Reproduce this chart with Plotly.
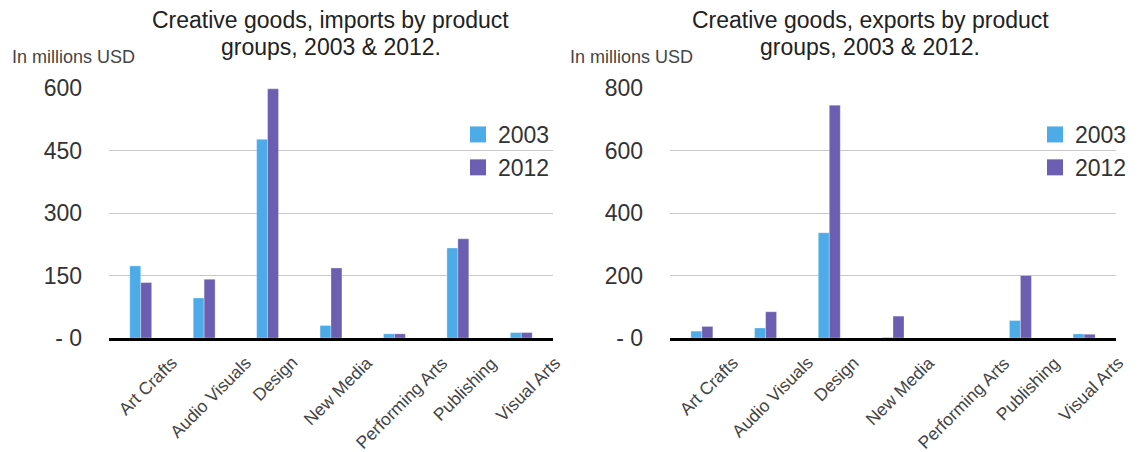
import plotly.graph_objects as go

categories = ["Art Crafts", "Audio Visuals", "Design", "New Media",
              "Performing Arts", "Publishing", "Visual Arts"]
imports_2003 = [173, 96, 477, 30, 10, 216, 13]
imports_2012 = [133, 141, 598, 168, 10, 238, 13]
exports_2003 = [22, 32, 337, 2, 0, 56, 13]
exports_2012 = [37, 84, 745, 70, 0, 200, 12]

imp_ticks = [0, 150, 300, 450, 600]
imp_ticktext = ["- 0", "150", "300", "450", "600"]
exp_ticks = [0, 200, 400, 600, 800]
exp_ticktext = ["- 0", "200", "400", "600", "800"]

C2003 = "#4DABE8"
C2012 = "#6C5EB0"
FONT = "Liberation Sans"
W, H = 1146, 452
OFF = 8  # page body margin


def px(x):
    return (x - OFF) / W


def py(y):
    return 1 - (y - OFF) / H


fig = go.Figure()
panels = [("x", "y", "legend", imports_2003, imports_2012),
          ("x2", "y2", "legend2", exports_2003, exports_2012)]
for xa, ya, leg, v03, v12 in panels:
    for name, vals, col in (("2003", v03, C2003), ("2012", v12, C2012)):
        fig.add_trace(go.Bar(x=categories, y=vals, name=name, marker_color=col,
                             marker_line=dict(width=0.6, color="rgba(255,255,255,0.5)"),
                             xaxis=xa, yaxis=ya, showlegend=False, legendgroup=leg + name))
    # legend entries with larger square swatches
    for name, col in (("2003", C2003), ("2012", C2012)):
        fig.add_trace(go.Scatter(x=[None], y=[None], mode="markers", name=name,
                                 marker=dict(symbol="square", size=16, color=col),
                                 xaxis=xa, yaxis=ya, legend=leg, legendgroup=leg + name))
    # rotated category labels, centred under each category
    for cat in categories:
        fig.add_annotation(text=cat, x=cat, xref=xa, y=py(350), yref="paper",
                           xanchor="center", yanchor="top", xshift=7, textangle=-45,
                           showarrow=False, font=dict(family=FONT, size=17.5, color="#444"))

ydom = [py(338), py(88)]
xrange = [-0.5, len(categories) - 0.5]
xcommon = dict(showline=True, linecolor="black", linewidth=3, showgrid=False,
               showticklabels=False, ticks="", automargin=False, zeroline=False,
               range=xrange, autorange=False)
ycommon = dict(showgrid=True, gridcolor="#c8c8c8", gridwidth=1.2, zeroline=False,
               tickfont=dict(family=FONT, size=23, color="#333"), ticks="",
               ticklabelstandoff=26, automargin=False, showline=False)

legfont = dict(family=FONT, size=23, color="#333")
fig.update_layout(
    width=W, height=H,
    margin=dict(l=0, r=0, t=0, b=0),
    plot_bgcolor="white", paper_bgcolor="white",
    barmode="group", bargap=0.655, bargroupgap=0,
    font=dict(family=FONT, color="#333"),
    xaxis=dict(domain=[px(109), px(553)], anchor="y", **xcommon),
    yaxis=dict(domain=ydom, anchor="x", range=[0, 600], tickvals=imp_ticks,
               ticktext=imp_ticktext, **ycommon),
    xaxis2=dict(domain=[px(670), px(1116)], anchor="y2", **xcommon),
    yaxis2=dict(domain=ydom, anchor="x2", range=[0, 800], tickvals=exp_ticks,
                ticktext=exp_ticktext, **ycommon),
    legend=dict(x=px(458), y=py(113), xanchor="left", yanchor="top",
                font=legfont, bgcolor="rgba(0,0,0,0)", tracegroupgap=0),
    legend2=dict(x=px(1035), y=py(113), xanchor="left", yanchor="top",
                 font=legfont, bgcolor="rgba(0,0,0,0)", tracegroupgap=0),
    showlegend=True,
)

titles = [("Creative goods, imports by product", "groups, 2003 &amp; 2012.", 331),
          ("Creative goods, exports by product", "groups, 2003 &amp; 2012.", 870)]
for l1, l2, cx in titles:
    for txt, yy in ((l1, 20), (l2, 47)):
        fig.add_annotation(text=txt, x=px(cx), y=py(yy), xref="paper", yref="paper",
                           xanchor="center", yanchor="middle", showarrow=False,
                           font=dict(family=FONT, size=23, color="#222"))
for xx in (10, 568):
    fig.add_annotation(text="In millions USD", x=px(xx), y=py(57), xref="paper", yref="paper",
                       xanchor="left", yanchor="middle", showarrow=False,
                       font=dict(family=FONT, size=18, color="#444"))

fig.write_html("out.html")
